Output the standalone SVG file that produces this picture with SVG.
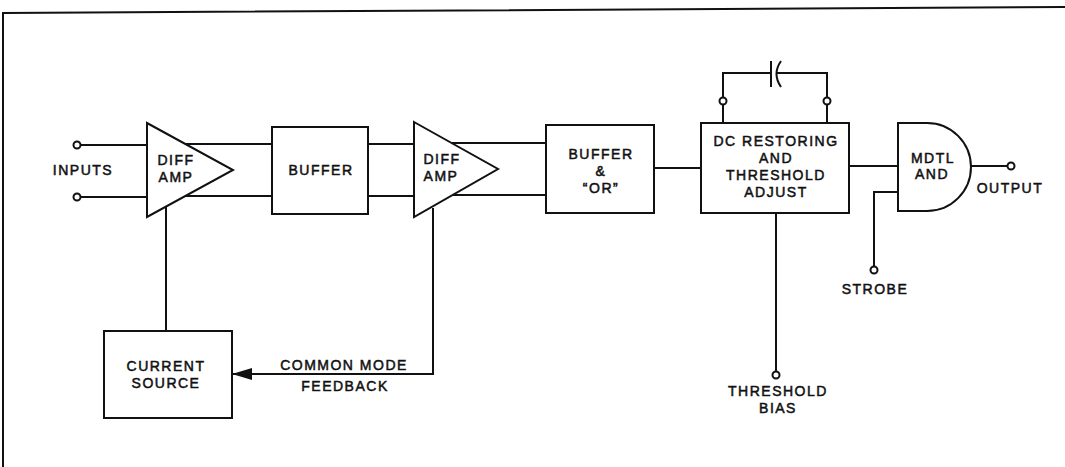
<svg xmlns="http://www.w3.org/2000/svg" width="1065" height="467" viewBox="0 0 1065 467">
<style>
.s{fill:none;stroke:#111;stroke-width:2;stroke-linejoin:miter}
.b{fill:#fff;stroke:#111;stroke-width:2}
.t{font-family:"Liberation Sans",Arial,sans-serif;font-size:14px;fill:#111;stroke:#111;stroke-width:0.5;text-anchor:middle;letter-spacing:1.5px}
.term{fill:#fff;stroke:#111;stroke-width:2}
</style>
<defs>
<marker id="arr" markerWidth="20" markerHeight="12" refX="20" refY="6" orient="auto" markerUnits="userSpaceOnUse">
<path d="M0,0 L20,6 L0,12 Z" fill="#111"/>
</marker>
</defs>
<rect width="1065" height="467" fill="#fff"/>
<g id="frame">
<path class="s" d="M3,467 L3,13 L1065,7" stroke-width="1.5"/>
</g>
<g id="connectors">
<line class="s" x1="81" y1="145" x2="147" y2="145"/>
<line class="s" x1="81" y1="197" x2="147" y2="197"/>
<line class="s" x1="184" y1="144" x2="272" y2="144"/>
<line class="s" x1="184" y1="196" x2="272" y2="196"/>
<line class="s" x1="368" y1="144" x2="414" y2="144"/>
<line class="s" x1="368" y1="196" x2="414" y2="196"/>
<line class="s" x1="452" y1="143" x2="546" y2="143"/>
<line class="s" x1="452" y1="195" x2="546" y2="195"/>
<line class="s" x1="654" y1="168" x2="701" y2="168"/>
<line class="s" x1="849" y1="166" x2="898" y2="166"/>
<line class="s" x1="971" y1="166" x2="1007" y2="166"/>
<path class="s" d="M898,192 L874,192 L874,266"/>
<line class="s" x1="776" y1="213" x2="776" y2="371"/>
<path class="s" d="M723,123 L723,73 L771,73"/>
<path class="s" d="M827,123 L827,73 L777,73"/>
<line class="s" x1="771" y1="61" x2="771" y2="87" stroke-width="2.5"/>
<path class="s" d="M781,61 Q772,74 781,87" stroke-width="2.5"/>
<line class="s" x1="166" y1="207" x2="166" y2="331"/>
<path class="s" d="M433,208 L433,374 L232,374" marker-end="url(#arr)"/>
</g>
<g id="terminals">
<circle class="term" cx="77" cy="145" r="3.5"/>
<circle class="term" cx="77" cy="197" r="3.5"/>
<circle class="term" cx="723" cy="101" r="3.5"/>
<circle class="term" cx="827" cy="101" r="3.5"/>
<circle class="term" cx="1011" cy="166" r="3.5"/>
<circle class="term" cx="874" cy="270" r="3.5"/>
<circle class="term" cx="776" cy="375" r="3.5"/>
</g>
<g id="inputs-label"><text class="t" x="83" y="175">INPUTS</text></g>
<g id="diffamp1">
<path class="b" d="M147,123 L233,170 L147,217 Z"/>
<text class="t" x="176" y="165">DIFF</text>
<text class="t" x="176" y="182">AMP</text>
</g>
<g id="buffer1">
<rect class="b" x="272" y="127" width="96" height="87"/>
<text class="t" x="321" y="175">BUFFER</text>
</g>
<g id="diffamp2">
<path class="b" d="M414,122 L498,169 L414,217 Z"/>
<text class="t" x="442" y="164">DIFF</text>
<text class="t" x="441" y="181">AMP</text>
</g>
<g id="buffer-or">
<rect class="b" x="546" y="125" width="108" height="88"/>
<text class="t" x="601" y="159">BUFFER</text>
<text class="t" x="601" y="176">&amp;</text>
<text class="t" x="601" y="193">“OR”</text>
</g>
<g id="dc-restoring">
<rect class="b" x="701" y="123" width="148" height="90"/>
<text class="t" x="776" y="146">DC RESTORING</text>
<text class="t" x="776" y="163">AND</text>
<text class="t" x="776" y="180">THRESHOLD</text>
<text class="t" x="776" y="197">ADJUST</text>
</g>
<g id="mdtl-and">
<path class="b" d="M898,123 L927,123 A44,44 0 0 1 927,211 L898,211 Z"/>
<text class="t" x="933" y="163">MDTL</text>
<text class="t" x="932" y="179">AND</text>
</g>
<g id="output-label"><text class="t" x="1010" y="193">OUTPUT</text></g>
<g id="strobe-label"><text class="t" x="875" y="294">STROBE</text></g>
<g id="threshold-bias-label">
<text class="t" x="778" y="396">THRESHOLD</text>
<text class="t" x="778" y="413">BIAS</text>
</g>
<g id="current-source">
<rect class="b" x="104" y="331" width="128" height="87"/>
<text class="t" x="166" y="371">CURRENT</text>
<text class="t" x="166" y="388">SOURCE</text>
</g>
<g id="feedback-label">
<text class="t" x="344" y="370">COMMON MODE</text>
<text class="t" x="345" y="391">FEEDBACK</text>
</g>
</svg>
